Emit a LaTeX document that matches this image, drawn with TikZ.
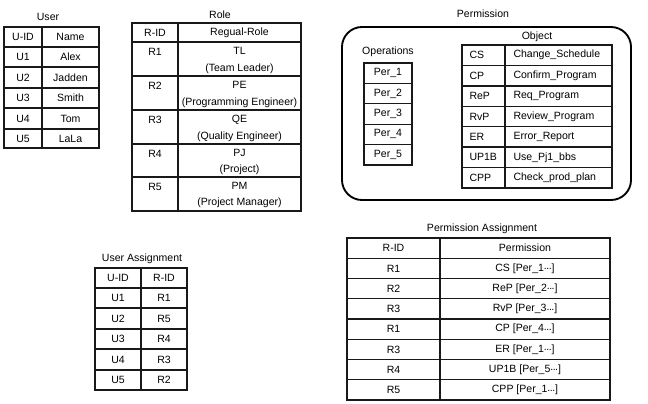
\documentclass[tikz,border=0pt]{standalone}
\usepackage{fontspec}
\setmainfont{Liberation Sans}

\begin{document}
\tikzset{every picture/.style={line width=0.75pt}}
\tikzset{grid/.style={line width=1pt,color={rgb, 255:red, 25; green, 25; blue, 25 }}}
\tikzset{cell/.style={inner sep=0.75pt,font=\fontsize{7.9}{12.5}\selectfont}}
\newcommand{\dotsmid}{\raisebox{0.28ex}{.\kern-0.05em.\kern-0.05em.}}

\begin{tikzpicture}[x=0.75pt,y=0.75pt,yscale=-1,xscale=1]
\path [use as bounding box] (0,0) rectangle (648,403);

%Shape: Table [User]
\draw [grid] (4,27) rectangle (99,148) ;
\draw [grid] (42,27) -- (42,148) ;
\draw [grid] (4,47) -- (99,47) ;
\draw [grid] (4,67) -- (99,67) ;
\draw [grid] (4,88) -- (99,88) ;
\draw [grid] (4,108) -- (99,108) ;
\draw [grid] (4,129) -- (99,129) ;

% Text Node
\draw (48,17) node [cell] (user) {User};
\draw (23,37) node [cell] (user_id) {U-ID};
\draw (70.5,37) node [cell] (user_name) {Name};
\draw (23,57) node [cell] (u1) {U1};
\draw (70.5,57) node [cell] (u1_name) {Alex};
\draw (23,77.5) node [cell] (u2) {U2};
\draw (70.5,77.5) node [cell] (u2_name) {Jadden};
\draw (23,98) node [cell] (u3) {U3};
\draw (70.5,98) node [cell] (u3_name) {Smith};
\draw (23,118.5) node [cell] (u4) {U4};
\draw (70.5,118.5) node [cell] (u4_name) {Tom};
\draw (23,138.5) node [cell] (u5) {U5};
\draw (70.5,138.5) node [cell] (u5_name) {LaLa};

%Shape: Table [Role]
\draw [grid] (132,23) rectangle (301,211) ;
\draw [grid] (178,23) -- (178,211) ;
\draw [grid] (132,42) -- (301,42) ;
\draw [grid] (132,76) -- (301,76) ;
\draw [grid] (132,110) -- (301,110) ;
\draw [grid] (132,144) -- (301,144) ;
\draw [grid] (132,177) -- (301,177) ;

% Text Node
\draw (220,15) node [cell] (role) {Role};
\draw (155,32.5) node [cell] (role_id) {R-ID};
\draw (239.5,32.5) node [cell] (role_name) {Regual-Role};
\draw (155,52) node [cell] (r1) {R1};
\draw (239.5,60.5) node [cell,align=center] (r1_name) {TL\\(Team Leader)};
\draw (155,86) node [cell] (r2) {R2};
\draw (239.5,94.5) node [cell,align=center] (r2_name) {PE\\(Programming Engineer)};
\draw (155,120) node [cell] (r3) {R3};
\draw (239.5,128.5) node [cell,align=center] (r3_name) {QE\\(Quality Engineer)};
\draw (155,154) node [cell] (r4) {R4};
\draw (239.5,162) node [cell,align=center] (r4_name) {PJ\\(Project)};
\draw (155,187) node [cell] (r5) {R5};
\draw (239.5,195) node [cell,align=center] (r5_name) {PM\\(Project Manager)};

%Shape: Rounded Rectangle [Permission]
\draw [line width=1.4pt, rounded corners=15pt] (342,27) rectangle (631,200) ;
\draw (483,14) node [cell] (perm) {Permission};

%Shape: Table [Operations]
\draw [grid] (364,63) rectangle (412,165) ;
\draw [grid] (364,83.4) -- (412,83.4) ;
\draw [grid] (364,103.8) -- (412,103.8) ;
\draw [grid] (364,124.2) -- (412,124.2) ;
\draw [grid] (364,144.6) -- (412,144.6) ;

% Text Node
\draw (388,52) node [cell] (ops) {Operations};
\draw (388,73.2) node [cell] (per1) {Per\_1};
\draw (388,93.6) node [cell] (per2) {Per\_2};
\draw (388,114) node [cell] (per3) {Per\_3};
\draw (388,134.4) node [cell] (per4) {Per\_4};
\draw (388,154.8) node [cell] (per5) {Per\_5};

%Shape: Table [Object]
\draw [grid] (462,45) rectangle (612,188) ;
\draw [grid] (505,45) -- (505,188) ;
\draw [grid] (462,65.4) -- (612,65.4) ;
\draw [grid] (462,85.9) -- (612,85.9) ;
\draw [grid] (462,106.3) -- (612,106.3) ;
\draw [grid] (462,126.7) -- (612,126.7) ;
\draw [grid] (462,147.1) -- (612,147.1) ;
\draw [grid] (462,167.6) -- (612,167.6) ;

% Text Node
\draw (537,37) node [cell] (obj) {Object};
\draw (468,55.2) node [anchor=west][cell] (cs) {CS};
\draw (512,55.2) node [anchor=west][cell] (cs_name) {Change\_Schedule};
\draw (468,75.6) node [anchor=west][cell] (cp) {CP};
\draw (512,75.6) node [anchor=west][cell] (cp_name) {Confirm\_Program};
\draw (468,96.1) node [anchor=west][cell] (rep) {ReP};
\draw (512,96.1) node [anchor=west][cell] (rep_name) {Req\_Program};
\draw (468,116.5) node [anchor=west][cell] (rvp) {RvP};
\draw (512,116.5) node [anchor=west][cell] (rvp_name) {Review\_Program};
\draw (468,136.9) node [anchor=west][cell] (er) {ER};
\draw (512,136.9) node [anchor=west][cell] (er_name) {Error\_Report};
\draw (468,157.4) node [anchor=west][cell] (up1b) {UP1B};
\draw (512,157.4) node [anchor=west][cell] (up1b_name) {Use\_Pj1\_bbs};
\draw (468,177.8) node [anchor=west][cell] (cpp) {CPP};
\draw (512,177.8) node [anchor=west][cell] (cpp_name) {Check\_prod\_plan};

%Shape: Table [User Assignment]
\draw [grid] (95,268) rectangle (187,390) ;
\draw [grid] (141,268) -- (141,390) ;
\draw [grid] (95,288) -- (187,288) ;
\draw [grid] (95,308) -- (187,308) ;
\draw [grid] (95,329) -- (187,329) ;
\draw [grid] (95,349) -- (187,349) ;
\draw [grid] (95,370) -- (187,370) ;

% Text Node
\draw (142,259) node [cell] (ua) {User Assignment};
\draw (118,278) node [cell] (ua_uid) {U-ID};
\draw (164,278) node [cell] (ua_rid) {R-ID};
\draw (118,298) node [cell] (ua_u1) {U1};
\draw (164,298) node [cell] (ua_r1) {R1};
\draw (118,318.5) node [cell] (ua_u2) {U2};
\draw (164,318.5) node [cell] (ua_r5) {R5};
\draw (118,339) node [cell] (ua_u3) {U3};
\draw (164,339) node [cell] (ua_r4) {R4};
\draw (118,359.5) node [cell] (ua_u4) {U4};
\draw (164,359.5) node [cell] (ua_r3) {R3};
\draw (118,380) node [cell] (ua_u5) {U5};
\draw (164,380) node [cell] (ua_r2) {R2};

%Shape: Table [Permission Assignment]
\draw [grid] (347,238) rectangle (610,400) ;
\draw [grid] (440,238) -- (440,400) ;
\draw [grid] (347,258.25) -- (610,258.25) ;
\draw [grid] (347,278.5) -- (610,278.5) ;
\draw [grid] (347,298.75) -- (610,298.75) ;
\draw [grid] (347,319) -- (610,319) ;
\draw [grid] (347,339.25) -- (610,339.25) ;
\draw [grid] (347,359.5) -- (610,359.5) ;
\draw [grid] (347,379.75) -- (610,379.75) ;

% Text Node
\draw (482,229) node [cell] (pa) {Permission Assignment};
\draw (393.5,248.1) node [cell] (pa_rid) {R-ID};
\draw (525,248.1) node [cell] (pa_perm) {Permission};
\draw (393.5,268.4) node [cell] (pa_r1) {R1};
\draw (525,268.4) node [cell] (pa_cs) {CS [Per\_1\dotsmid]};
\draw (393.5,288.6) node [cell] (pa_r2) {R2};
\draw (525,288.6) node [cell] (pa_rep) {ReP [Per\_2\dotsmid]};
\draw (393.5,308.9) node [cell] (pa_r3) {R3};
\draw (525,308.9) node [cell] (pa_rvp) {RvP [Per\_3\dotsmid]};
\draw (393.5,329.1) node [cell] (pa_r1b) {R1};
\draw (525,329.1) node [cell] (pa_cp) {CP [Per\_4\dotsmid]};
\draw (393.5,349.4) node [cell] (pa_r3b) {R3};
\draw (525,349.4) node [cell] (pa_er) {ER [Per\_1\dotsmid]};
\draw (393.5,369.6) node [cell] (pa_r4) {R4};
\draw (525,369.6) node [cell] (pa_up1b) {UP1B [Per\_5\dotsmid]};
\draw (393.5,389.9) node [cell] (pa_r5) {R5};
\draw (525,389.9) node [cell] (pa_cpp) {CPP [Per\_1\dotsmid]};

\end{tikzpicture}
\end{document}
